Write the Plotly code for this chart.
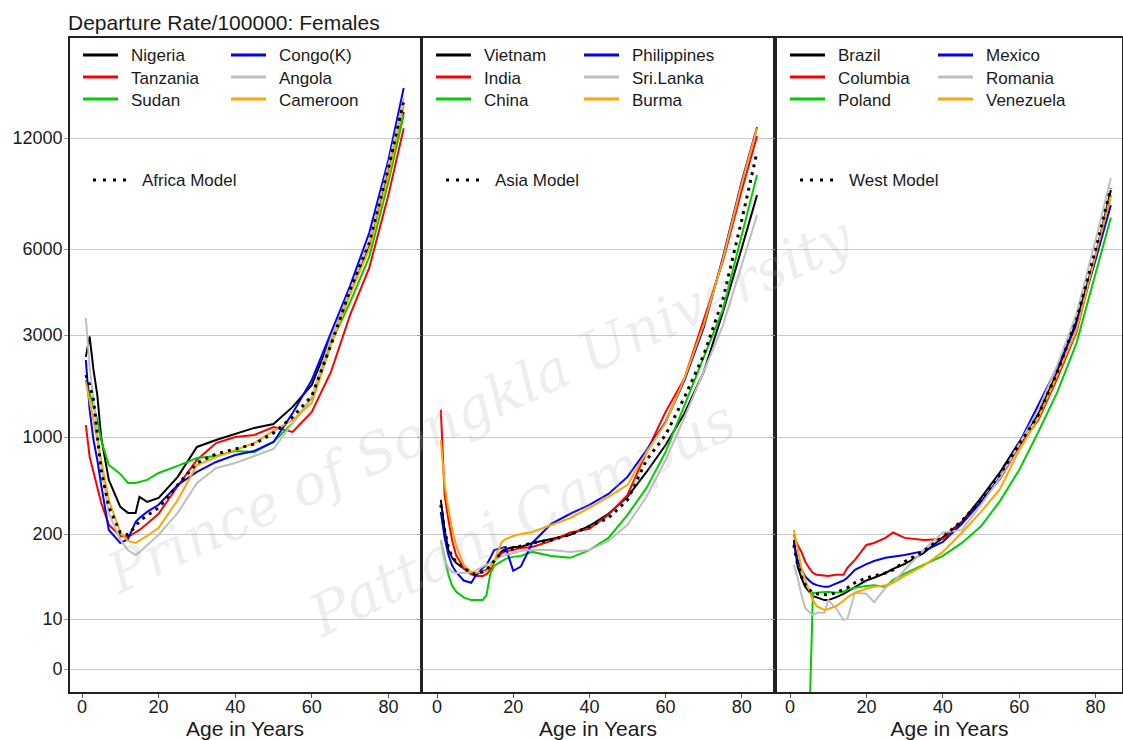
import numpy as np
import plotly.graph_objects as go

# ---------------- data (rate per 100000) ----------------
AGES_AFRICA = [1, 2, 3, 4, 5, 7, 10, 12, 14, 15, 17, 20, 25, 30, 35, 40, 45, 50, 55, 60, 65, 70, 75, 80, 84]
NIGERIA = [2370, 2950, 2059, 1572, 1000, 491, 314, 284, 284, 371, 341, 364, 517, 848, 951, 1034, 1103, 1150, 1383, 1752, 2940, 4315, 6150, 9760, 14120]
TANZANIA = [1138, 718, 560, 437, 336, 233, 187, 180, 207, 214, 237, 280, 444, 683, 905, 1000, 1022, 1114, 1056, 1310, 2015, 3530, 5150, 8400, 12750]
SUDAN = [1849, 1607, 1412, 1201, 951, 629, 542, 467, 467, 475, 491, 551, 619, 706, 730, 793, 780, 921, 1163, 1522, 2750, 3900, 5630, 9110, 13850]
CONGO = [2291, 1339, 951, 683, 452, 214, 147, 168, 245, 261, 289, 325, 452, 560, 661, 742, 793, 921, 1296, 1849, 3050, 4460, 6640, 10460, 16400]
ANGOLA = [3440, 2130, 1490, 1045, 629, 284, 163, 115, 97, 107, 137, 195, 284, 467, 597, 650, 730, 820, 1163, 1540, 2905, 4315, 6270, 10130, 15400]
CAMEROON = [1810, 1490, 1201, 951, 683, 352, 205, 158, 147, 158, 187, 222, 352, 629, 718, 806, 905, 1068, 1201, 1442, 2695, 4145, 6000, 9520, 14640]
AFRICA_MODEL = [1951, 1752, 1490, 1022, 579, 314, 205, 195, 227, 249, 271, 309, 452, 650, 755, 820, 890, 1045, 1240, 1556, 2695, 4315, 6230, 9940, 15110]

AGES_ASIA = [1, 2, 3, 4, 5, 7, 9, 10, 12, 13, 14, 15, 17, 18, 20, 22, 25, 30, 35, 40, 45, 50, 55, 60, 65, 70, 75, 80, 84]
VIETNAM = [352, 214, 115, 88, 74, 60, 50, 49, 54, 58, 65, 77, 111, 119, 128, 128, 147, 168, 195, 229, 280, 371, 560, 876, 1296, 2015, 3590, 6040, 8400]
INDIA = [1339, 383, 253, 158, 97, 62, 50, 47, 47, 50, 58, 79, 104, 111, 115, 124, 128, 158, 205, 218, 275, 383, 780, 1310, 1890, 3360, 5410, 8670, 12150]
CHINA = [163, 88, 49, 33, 27, 22, 20, 20, 20, 24, 51, 67, 79, 85, 91, 94, 108, 94, 88, 115, 175, 275, 430, 780, 1412, 2340, 3672, 6550, 9520]
PHILIPPINES = [289, 175, 97, 67, 54, 40, 37, 46, 62, 69, 88, 115, 124, 128, 56, 65, 147, 237, 280, 325, 389, 516, 806, 1175, 1849, 3180, 5590, 9170, 12840]
SRI_LANKA = [163, 82, 62, 54, 52, 52, 54, 56, 65, 69, 74, 79, 94, 97, 104, 111, 115, 115, 108, 115, 158, 233, 371, 683, 1240, 2015, 3230, 5280, 7420]
BURMA = [951, 452, 299, 214, 137, 69, 54, 52, 54, 56, 65, 79, 152, 168, 187, 200, 207, 233, 261, 309, 371, 452, 780, 1163, 1890, 3257, 5495, 9050, 12750]
ASIA_MODEL = [325, 214, 124, 91, 77, 62, 52, 50, 54, 58, 67, 79, 108, 115, 124, 132, 147, 163, 195, 227, 261, 352, 683, 1022, 1540, 2420, 3981, 7200, 11000]

AGES_WEST = [1, 2, 3, 4, 5, 6, 7, 9, 10, 12, 14, 15, 17, 20, 22, 25, 27, 30, 35, 40, 45, 50, 55, 60, 65, 70, 75, 80, 84]
BRAZIL = [163, 65, 44, 32, 27, 23, 22, 20, 20, 22, 25, 27, 32, 40, 44, 52, 60, 71, 104, 180, 245, 364, 560, 921, 1282, 2015, 3360, 5720, 8670]
COLUMBIA = [195, 137, 108, 77, 62, 52, 49, 47, 47, 49, 49, 62, 82, 137, 147, 175, 205, 175, 163, 168, 241, 341, 499, 862, 1201, 1890, 3075, 5720, 8400]
POLAND = [None, None, None, None, -0.95, 26, 26, 27, 27, 26, 27, 29, 31, 33, 34, 32, 41, 51, 69, 94, 147, 227, 347, 579, 1056, 1625, 2750, 4990, 7300]
MEXICO = [147, 82, 58, 46, 40, 36, 34, 32, 32, 36, 40, 44, 58, 71, 79, 88, 91, 97, 111, 152, 237, 341, 516, 905, 1412, 2127, 3257, 5495, 7900]
ROMANIA = [69, 44, 24, 15, 13, 11.6, 12.6, 12.6, 20, 15, 9.5, 10, 26, 25, 18.5, 31, 38, 58, 115, 205, 214, 325, 508, 890, 1339, 2173, 3560, 6350, 9340]
VENEZUELA = [214, 115, 62, 41, 29, 20, 16, 14, 14.5, 16, 19.5, 22, 26, 30, 32, 34, 37, 47, 67, 108, 205, 289, 423, 806, 1227, 1951, 3125, 5720, 8400]
WEST_MODEL = [137, 69, 46, 34, 29, 26, 25, 24, 24, 26, 29, 31, 37, 44, 47, 52, 58, 77, 111, 180, 249, 352, 542, 876, 1267, 2015, 3388, 5960, 8780]

Y_TICK_LABELS = [0, 10, 200, 1000, 3000, 6000, 12000]
X_TICKS = [0, 20, 40, 60, 80]

# ---------------- styling / scale ----------------
TICK_POS = [0, 50, 135, 232, 334, 420, 531]   # axis position of each y tick (custom stretched scale)
COLORS = ["#000000", "#ff0000", "#00cd00", "#0000ff", "#bebebe", "#ffa500"]
FONT = "Liberation Sans, Arial, sans-serif"
W, H = 1123, 740
ML, MR, MT, MB = 70, 1, 38, 48
PW, PH = W - ML - MR, H - MT - MB


def to_axis(values):
    v = np.array([np.nan if x is None else x for x in values], dtype=float)
    L = np.log10(v + 1.0)
    Lk = np.log10(np.array(Y_TICK_LABELS, dtype=float) + 1.0)
    P = np.array(TICK_POS, dtype=float)
    out = np.interp(L, Lk, P)
    lo = L < Lk[0]
    hi = L > Lk[-1]
    out[lo] = P[0] + (L[lo] - Lk[0]) * (P[1] - P[0]) / (Lk[1] - Lk[0])
    out[hi] = P[-1] + (L[hi] - Lk[-1]) * (P[-1] - P[-2]) / (Lk[-1] - Lk[-2])
    out[np.isnan(v)] = np.nan
    return out


def px2x(px):
    return (px - ML) / PW


def py2y(py):
    return (H - MB - py) / PH


panels = [
    dict(ages=AGES_AFRICA, left=70, right=420, zero=82, scale=3.83,
         series=[("Nigeria", NIGERIA), ("Tanzania", TANZANIA), ("Sudan", SUDAN),
                 ("Congo(K)", CONGO), ("Angola", ANGOLA), ("Cameroon", CAMEROON)],
         model=("Africa Model", AFRICA_MODEL)),
    dict(ages=AGES_ASIA, left=423, right=773, zero=437, scale=3.81,
         series=[("Vietnam", VIETNAM), ("India", INDIA), ("China", CHINA),
                 ("Philippines", PHILIPPINES), ("Sri.Lanka", SRI_LANKA), ("Burma", BURMA)],
         model=("Asia Model", ASIA_MODEL)),
    dict(ages=AGES_WEST, left=777, right=1122, zero=790, scale=3.82,
         series=[("Brazil", BRAZIL), ("Columbia", COLUMBIA), ("Poland", POLAND),
                 ("Mexico", MEXICO), ("Romania", ROMANIA), ("Venezuela", VENEZUELA)],
         model=("West Model", WEST_MODEL)),
]

fig = go.Figure()
shapes, annotations = [], []
layout_axes = {}

for i, p in enumerate(panels, start=1):
    xa = "x" if i == 1 else f"x{i}"
    ya = "y" if i == 1 else f"y{i}"
    for k, (name, vals) in enumerate(p["series"]):
        fig.add_trace(go.Scatter(x=p["ages"], y=to_axis(vals), mode="lines", name=name,
                                 line=dict(color=COLORS[k], width=2), xaxis=xa, yaxis=ya,
                                 showlegend=False, connectgaps=False, hoverinfo="skip"))
    mname, mvals = p["model"]
    fig.add_trace(go.Scatter(x=p["ages"], y=to_axis(mvals), mode="lines", name=mname,
                             line=dict(color="#000000", width=3, dash="3px,5px"),
                             xaxis=xa, yaxis=ya, showlegend=False, hoverinfo="skip"))

    xr = [(p["left"] - p["zero"]) / p["scale"], (p["right"] - p["zero"]) / p["scale"]]
    layout_axes["xaxis" if i == 1 else f"xaxis{i}"] = dict(
        domain=[px2x(p["left"]), px2x(p["right"])], range=xr, anchor=ya,
        tickvals=X_TICKS, ticks="outside", ticklen=4, tickcolor="#555", tickwidth=1,
        ticklabelstandoff=-6,
        showgrid=False, zeroline=False, showline=True, mirror=True,
        linecolor="#222", linewidth=1.6, automargin=False,
        tickfont=dict(family=FONT, size=18, color="#1a1a1a"),
        title=dict(text="Age in Years", font=dict(family=FONT, size=21, color="#1a1a1a"), standoff=1),
    )
    layout_axes["yaxis" if i == 1 else f"yaxis{i}"] = dict(
        domain=[0, 1], range=[-23, 631], anchor=xa,
        tickvals=TICK_POS, ticktext=[str(v) for v in Y_TICK_LABELS],
        showticklabels=(i == 1), ticks="outside", ticklen=4, tickcolor="#999",
        ticklabelstandoff=-2, automargin=False,
        showgrid=True, gridcolor="#c8c8c8", gridwidth=1.3, zeroline=False,
        showline=True, mirror=True, linecolor="#222", linewidth=1.6,
        tickfont=dict(family=FONT, size=18, color="#1a1a1a"),
    )

    # legend drawn inside each panel
    L = p["left"]
    rows = [55, 77, 99]
    for k, (name, _) in enumerate(p["series"]):
        col = k // 3
        ry = rows[k % 3]
        x0 = L + (13 if col == 0 else 161)
        shapes.append(dict(type="line", xref="paper", yref="paper",
                           x0=px2x(x0), x1=px2x(x0 + 35), y0=py2y(ry), y1=py2y(ry),
                           line=dict(color=COLORS[k], width=3)))
        annotations.append(dict(text=name, xref="paper", yref="paper", x=px2x(x0 + 46), y=py2y(ry + 1),
                                xanchor="left", yanchor="middle", showarrow=False,
                                font=dict(family=FONT, size=17, color="#1a1a1a")))
    shapes.append(dict(type="line", xref="paper", yref="paper",
                       x0=px2x(L + 23), x1=px2x(L + 58), y0=py2y(180), y1=py2y(180),
                       line=dict(color="#000000", width=3, dash="3px,7px")))
    annotations.append(dict(text=mname, xref="paper", yref="paper", x=px2x(L + 70), y=py2y(181),
                            xanchor="left", yanchor="middle", showarrow=False,
                            font=dict(family=FONT, size=17, color="#1a1a1a")))

# title
annotations.append(dict(text="Departure Rate/100000: Females", xref="paper", yref="paper",
                        x=px2x(66), y=py2y(22), xanchor="left", yanchor="middle", showarrow=False,
                        font=dict(family=FONT, size=21, color="#1a1a1a")))

# watermark
annotations.append(dict(text="Prince of Songkla University", xref="paper", yref="paper",
                        x=px2x(480), y=py2y(405), xanchor="center", yanchor="middle",
                        textangle=-25, showarrow=False,
                        font=dict(family="DejaVu Serif", size=56, color="rgba(170,170,170,0.2)",
                                  style="italic")))
annotations.append(dict(text="Pattani Campus", xref="paper", yref="paper",
                        x=px2x(522), y=py2y(518), xanchor="center", yanchor="middle",
                        textangle=-26, showarrow=False,
                        font=dict(family="DejaVu Serif", size=58, color="rgba(170,170,170,0.2)",
                                  style="italic")))

fig.update_layout(
    width=W, height=H, margin=dict(l=ML, r=MR, t=MT, b=MB, autoexpand=False),
    paper_bgcolor="white", plot_bgcolor="white", showlegend=False, hovermode=False,
    shapes=shapes, annotations=annotations, **layout_axes,
)

fig.write_html("out.html", config={"displayModeBar": False},
               post_script="document.body.style.margin='0px';document.body.style.overflow='hidden';")
